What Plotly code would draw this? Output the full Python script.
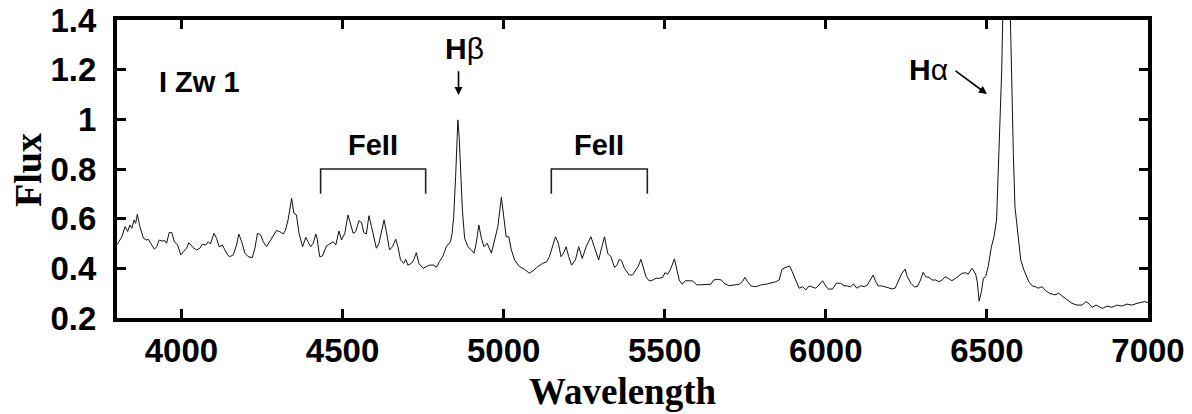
import plotly.graph_objects as go

# Spectrum of I Zw 1
wavelength = [3800, 3806, 3815, 3825, 3833, 3840, 3846, 3853, 3858, 3863, 3871, 3882, 3892, 3897, 3908, 3916, 3923,
              3931, 3939, 3949, 3954, 3962, 3970, 3978, 3988, 3998, 4006, 4016, 4023, 4029, 4037, 4047, 4057,
              4065, 4075, 4083, 4090, 4101, 4109, 4117, 4127, 4135, 4143, 4150, 4161, 4171, 4178, 4187, 4197,
              4207, 4220, 4228, 4236, 4246, 4254, 4264, 4274, 4285, 4295, 4305, 4316, 4323, 4331, 4342, 4349,
              4357, 4365, 4376, 4386, 4393, 4401, 4409, 4417, 4421, 4429, 4438, 4450, 4460, 4471, 4479, 4489,
              4497, 4507, 4517, 4525, 4533, 4541, 4551, 4559, 4566, 4574, 4582, 4590, 4597, 4605, 4613, 4621,
              4629, 4636, 4646, 4655, 4665, 4672, 4680, 4690, 4696, 4703, 4714, 4721, 4729, 4737, 4750, 4760,
              4770, 4783, 4791, 4801, 4812, 4822, 4835, 4840, 4845, 4851, 4855, 4858, 4862, 4865, 4872, 4879,
              4889, 4900, 4908, 4915, 4923, 4931, 4939, 4949, 4962, 4972, 4982, 4993, 5001, 5008, 5016, 5024,
              5034, 5049, 5065, 5080, 5094, 5106, 5121, 5134, 5142, 5152, 5161, 5170, 5178, 5186, 5194, 5202,
              5211, 5223, 5233, 5244, 5256, 5271, 5285, 5295, 5305, 5313, 5323, 5333, 5344, 5352, 5359, 5366,
              5375, 5390, 5400, 5411, 5418, 5426, 5435, 5442, 5452, 5463, 5473, 5483, 5494, 5501, 5509, 5516,
              5523, 5530, 5538, 5545, 5554, 5564, 5576, 5587, 5600, 5612, 5628, 5643, 5652, 5664, 5676, 5687,
              5700, 5716, 5731, 5741, 5749, 5757, 5768, 5783, 5798, 5814, 5829, 5845, 5855, 5864, 5876, 5888,
              5896, 5907, 5917, 5928, 5938, 5948, 5961, 5969, 5979, 5990, 5998, 6008, 6021, 6033, 6046, 6057,
              6067, 6077, 6086, 6096, 6108, 6119, 6129, 6139, 6147, 6155, 6163, 6175, 6191, 6206, 6215, 6225,
              6236, 6246, 6253, 6264, 6274, 6284, 6294, 6302, 6310, 6320, 6330, 6341, 6351, 6361, 6370, 6380,
              6391, 6403, 6413, 6423, 6434, 6442, 6454, 6465, 6470, 6476, 6483, 6489, 6496, 6504, 6514, 6522,
              6530, 6536, 6541, 6546, 6549, 6556, 6561, 6567, 6573, 6577, 6582, 6587, 6597, 6605, 6615, 6630,
              6641, 6651, 6659, 6672, 6682, 6694, 6711, 6723, 6736, 6749, 6764, 6780, 6795, 6808, 6818, 6826,
              6839, 6849, 6859, 6873, 6888, 6904, 6919, 6935, 6950, 6966, 6981, 6990, 7000]
flux = [0.495, 0.507, 0.527, 0.568, 0.548, 0.575, 0.561, 0.595, 0.581, 0.618, 0.568, 0.521, 0.514, 0.517, 0.494, 0.477, 0.487,
        0.514, 0.510, 0.511, 0.501, 0.544, 0.544, 0.507, 0.494, 0.454, 0.467, 0.481, 0.503, 0.494, 0.483, 0.474, 0.481,
        0.497, 0.494, 0.507, 0.498, 0.541, 0.521, 0.487, 0.494, 0.474, 0.454, 0.447, 0.454, 0.494, 0.538, 0.507, 0.461,
        0.447, 0.443, 0.481, 0.541, 0.534, 0.507, 0.487, 0.507, 0.527, 0.552, 0.548, 0.538, 0.554, 0.595, 0.682, 0.622,
        0.615, 0.541, 0.487, 0.525, 0.507, 0.487, 0.501, 0.538, 0.521, 0.447, 0.450, 0.490, 0.498, 0.507, 0.494, 0.550,
        0.514, 0.541, 0.615, 0.581, 0.541, 0.548, 0.592, 0.584, 0.544, 0.538, 0.612, 0.568, 0.527, 0.481, 0.501, 0.554,
        0.595, 0.548, 0.474, 0.487, 0.517, 0.487, 0.434, 0.420, 0.436, 0.413, 0.420, 0.434, 0.463, 0.420, 0.400, 0.407,
        0.413, 0.413, 0.404, 0.427, 0.450, 0.487, 0.507, 0.540, 0.608, 0.769, 0.870, 0.998, 0.930, 0.836, 0.635, 0.521,
        0.487, 0.474, 0.461, 0.501, 0.575, 0.521, 0.487, 0.501, 0.461, 0.514, 0.568, 0.686, 0.608, 0.527, 0.527, 0.474,
        0.434, 0.407, 0.396, 0.380, 0.393, 0.407, 0.420, 0.427, 0.447, 0.494, 0.527, 0.501, 0.447, 0.461, 0.487, 0.447,
        0.413, 0.434, 0.487, 0.440, 0.487, 0.527, 0.474, 0.434, 0.487, 0.527, 0.461, 0.447, 0.404, 0.413, 0.436, 0.431,
        0.400, 0.373, 0.373, 0.396, 0.409, 0.436, 0.396, 0.366, 0.349, 0.353, 0.360, 0.360, 0.364, 0.383, 0.376, 0.391,
        0.413, 0.438, 0.393, 0.353, 0.336, 0.350, 0.350, 0.349, 0.333, 0.333, 0.333, 0.336, 0.353, 0.356, 0.353, 0.337,
        0.330, 0.333, 0.336, 0.346, 0.364, 0.346, 0.329, 0.326, 0.333, 0.336, 0.340, 0.346, 0.353, 0.396, 0.404, 0.409,
        0.386, 0.353, 0.320, 0.326, 0.313, 0.329, 0.324, 0.320, 0.333, 0.350, 0.333, 0.316, 0.317, 0.340, 0.340, 0.330,
        0.329, 0.326, 0.337, 0.320, 0.330, 0.326, 0.333, 0.353, 0.373, 0.346, 0.329, 0.329, 0.324, 0.317, 0.320, 0.346,
        0.380, 0.397, 0.366, 0.340, 0.326, 0.326, 0.353, 0.384, 0.366, 0.364, 0.353, 0.353, 0.346, 0.353, 0.366, 0.360,
        0.350, 0.360, 0.369, 0.380, 0.382, 0.377, 0.400, 0.377, 0.346, 0.268, 0.306, 0.360, 0.366, 0.407, 0.487, 0.527,
        0.595, 0.796, 0.998, 1.199, 1.400, 2.000, 2.200, 2.000, 1.400, 1.132, 0.863, 0.648, 0.514, 0.434, 0.393, 0.346,
        0.329, 0.326, 0.320, 0.326, 0.310, 0.300, 0.293, 0.300, 0.286, 0.272, 0.259, 0.252, 0.252, 0.266, 0.256, 0.243,
        0.252, 0.245, 0.239, 0.248, 0.243, 0.252, 0.248, 0.256, 0.252, 0.259, 0.262, 0.266, 0.262]

x_ticks = [4000, 4500, 5000, 5500, 6000, 6500, 7000]
x_ticklabels = ["4000", "4500", "5000", "5500", "6000", "6500", "7000"]
y_ticks = [0.2, 0.4, 0.6, 0.8, 1.0, 1.2, 1.4]
y_ticklabels = ["0.2", "0.4", "0.6", "0.8", "1", "1.2", "1.4"]

feii_brackets = [(4432, 4758), (5148, 5446)]
bracket_low, bracket_high = 0.70, 0.80

SANS = "Liberation Sans, Arial, sans-serif"
SERIF = "Liberation Serif, Times New Roman, serif"

fig = go.Figure()
fig.add_trace(go.Scatter(x=wavelength, y=flux, mode="lines",
                         line=dict(color="#111111", width=1.0), showlegend=False, hoverinfo="skip"))

for lo, hi in feii_brackets:
    fig.add_shape(type="path",
                  path=f"M {lo},{bracket_low} L {lo},{bracket_high} L {hi},{bracket_high} L {hi},{bracket_low}",
                  xref="x", yref="y", line=dict(color="#222222", width=1.6))
    fig.add_annotation(x=(lo + hi) / 2, y=0.897, xref="x", yref="y", text="FeII", showarrow=False,
                       font=dict(family=SANS, size=29, color="black", weight="bold"))

fig.add_annotation(x=3925, y=1.15, xref="x", yref="y", text="I Zw 1", showarrow=False, xanchor="left",
                   font=dict(family=SANS, size=29, color="black", weight="bold"))

# H beta
fig.add_annotation(x=4880, y=1.287, xref="x", yref="y", text="<b>H</b>β", showarrow=False,
                   font=dict(family=SANS, size=30, color="black"))
fig.add_annotation(x=4860, y=1.098, ax=4860, ay=1.2, xref="x", yref="y", axref="x", ayref="y",
                   text="", showarrow=True, arrowhead=2, arrowsize=1, arrowwidth=1.6, arrowcolor="black",
                   standoff=0, startstandoff=0)
# H alpha
fig.add_annotation(x=6318, y=1.2, xref="x", yref="y", text="<b>H</b>α", showarrow=False,
                   font=dict(family=SANS, size=30, color="black"))
fig.add_annotation(x=6500, y=1.102, ax=6398, ay=1.2, xref="x", yref="y", axref="x", ayref="y",
                   text="", showarrow=True, arrowhead=2, arrowsize=1, arrowwidth=1.6, arrowcolor="black",
                   standoff=0, startstandoff=0)

# axis titles
fig.add_annotation(x=0.49, y=-0.246, xref="paper", yref="paper", text="Wavelength", showarrow=False,
                   xanchor="center", yanchor="middle",
                   font=dict(family=SERIF, size=37, color="black", weight="bold"))
fig.add_annotation(x=-0.0863, y=0.497, xref="paper", yref="paper", text="Flux", showarrow=False,
                   xanchor="center", yanchor="middle", textangle=-90,
                   font=dict(family=SERIF, size=38, color="black", weight="bold"))

axis_common = dict(showgrid=False, zeroline=False, showline=True, linecolor="black", linewidth=4,
                   mirror="ticks", ticks="inside", ticklen=9, tickwidth=3, tickcolor="black",
                   automargin=False,
                   tickfont=dict(family=SANS, size=33, color="black", weight="bold"))
fig.update_xaxes(range=[3800, 7000], tickvals=x_ticks, ticktext=x_ticklabels, ticklabelstandoff=0, **axis_common)
fig.update_yaxes(range=[0.2, 1.4], tickvals=y_ticks, ticktext=y_ticklabels, ticklabelstandoff=10, **axis_common)

fig.update_layout(width=1192, height=414, margin=dict(l=117, r=44, t=20, b=96, autoexpand=False),
                  plot_bgcolor="white", paper_bgcolor="white")
fig.write_html("out.html")
